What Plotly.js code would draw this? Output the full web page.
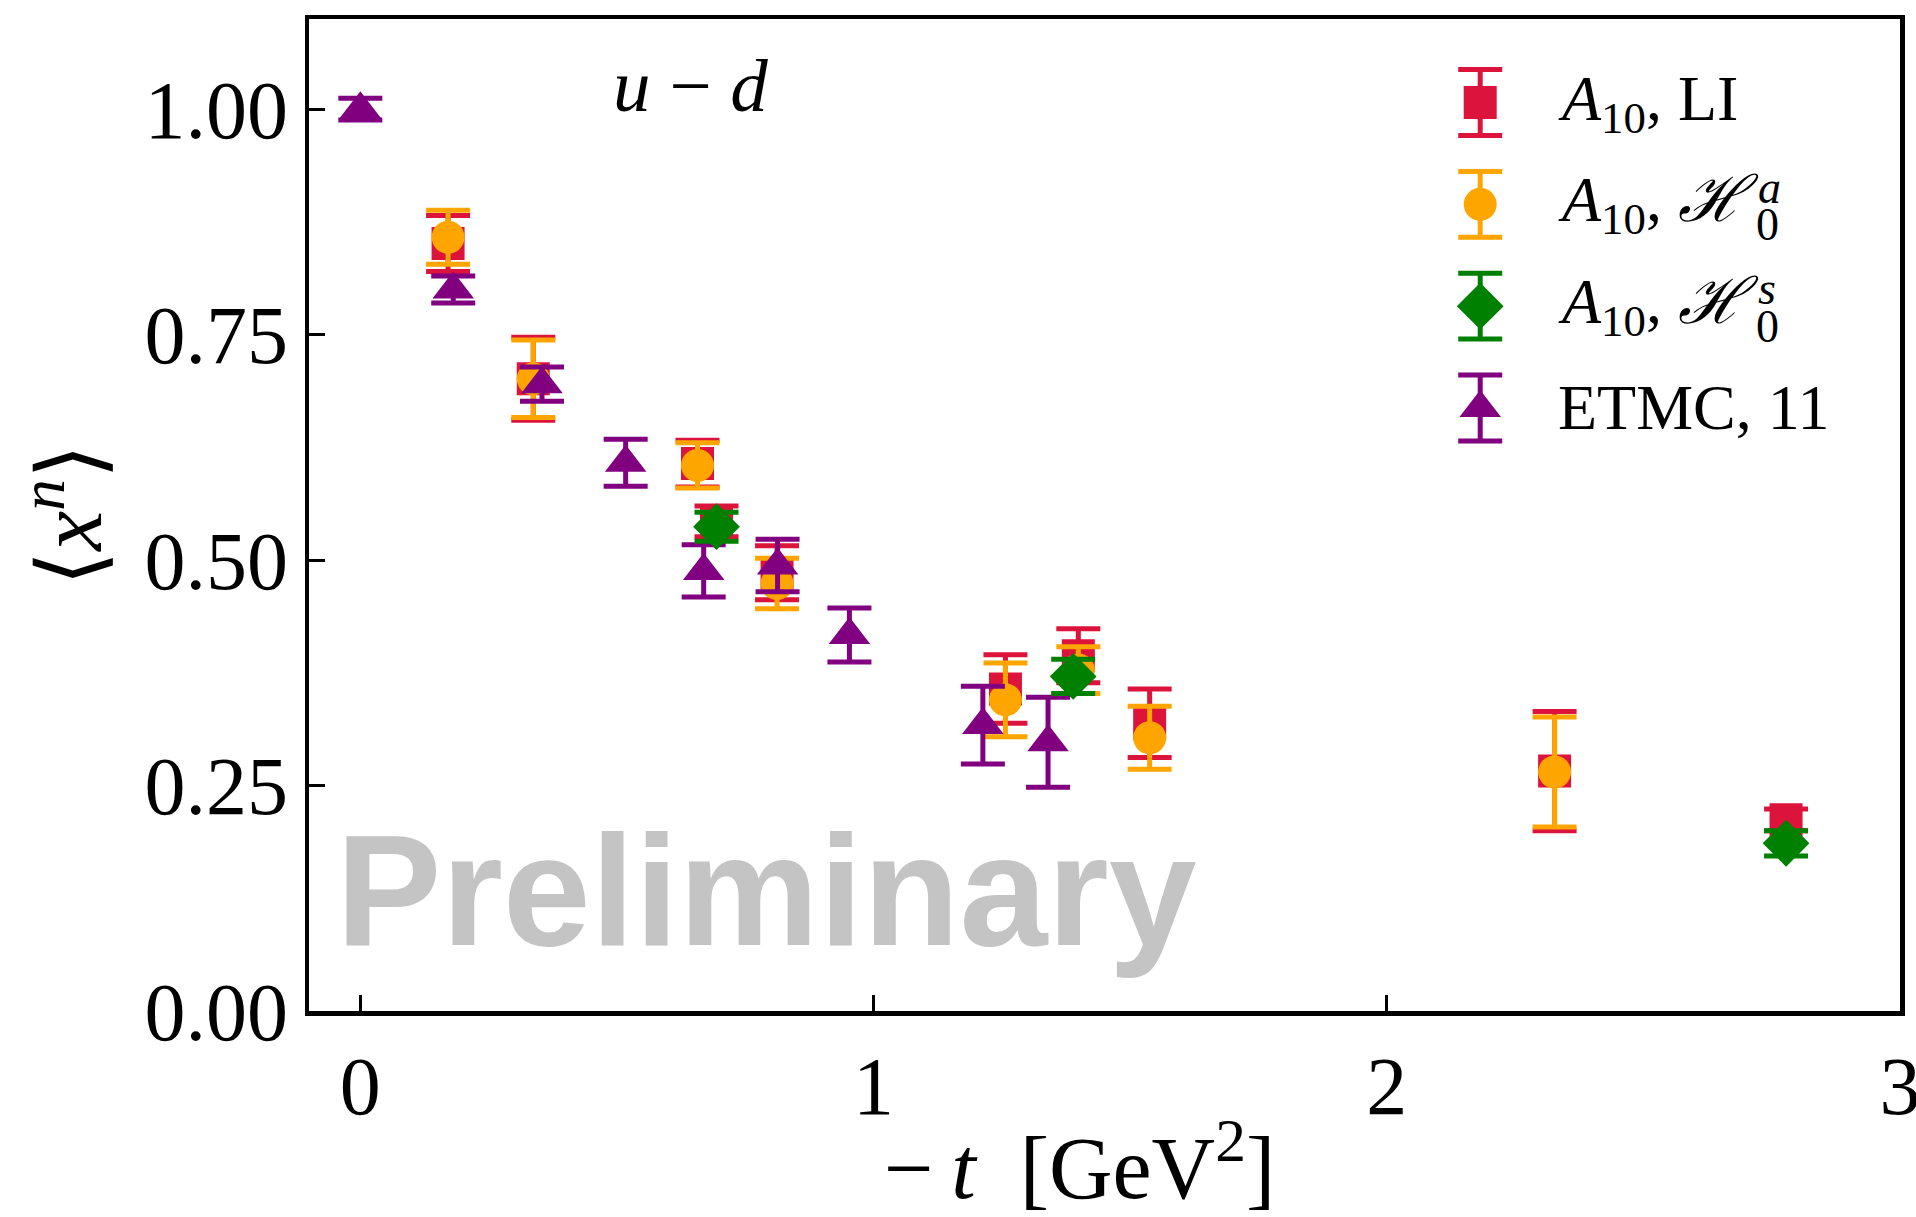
<!DOCTYPE html>
<html>
<head>
<meta charset="utf-8">
<script src="https://cdn.plot.ly/plotly-3.0.1.min.js"></script>
<style>html,body{margin:0;padding:0;background:#fff}</style>
</head>
<body>
<div id="chart" style="width:1916px;height:1217px"></div>
<script>
// Moments <x^n> of the u-d combination versus momentum transfer -t [GeV^2]

// A10, LI
const tLI   = [0.171, 0.337, 0.657, 0.694, 0.812, 1.257, 1.399, 1.538, 2.327, 2.778];
const xnLI  = [0.851, 0.701, 0.607, 0.543, 0.486, 0.357, 0.394, 0.319, 0.266, 0.212];
const errLI = [0.031, 0.046, 0.026, 0.017, 0.030, 0.038, 0.030, 0.038, 0.066, 0.012];

// A10, H0^a
const tHa   = [0.171, 0.337, 0.657, 0.812, 1.257, 1.399, 1.538, 2.327];
const xnHa  = [0.858, 0.701, 0.605, 0.474, 0.345, 0.378, 0.303, 0.265];
const errHa = [0.030, 0.043, 0.025, 0.028, 0.041, 0.026, 0.035, 0.061];

// A10, H0^s
const tHs   = [0.694, 1.389, 2.778];
const xnHs  = [0.537, 0.371, 0.186];
const errHs = [0.016, 0.019, 0.014];

// ETMC, 11
const tET   = [0.000, 0.181, 0.354, 0.517, 0.669, 0.813, 0.953, 1.213, 1.340];
const xnET  = [1.000, 0.800, 0.695, 0.608, 0.488, 0.494, 0.417, 0.317, 0.298];
const errET = [0.012, 0.015, 0.019, 0.026, 0.029, 0.029, 0.030, 0.043, 0.050];

// Axis ticks
const xTicks = [0, 1, 2, 3];
const yTicks = [0, 0.25, 0.5, 0.75, 1.0];

// Legend entries (top to bottom); script H carries a stacked sub/superscript
const legendLabels = [
  '<i>A</i><sub>10</sub>, LI',
  '<i>A</i><sub>10</sub>, <i>\u210B</i>',
  '<i>A</i><sub>10</sub>, <i>\u210B</i>',
  'ETMC, 11'
];
const legendSub = ['', '0', '0', ''];
const legendSup = ['', 'a', 's', ''];

const styles = {
  LI: {color: '#DC143C', symbol: 'square',      size: 33},
  Ha: {color: '#FFA500', symbol: 'circle',      size: 33},
  Hs: {color: '#008000', symbol: 'diamond',     size: 36},
  ET: {color: '#800080', symbol: 'triangle-up', size: 36}
};
const legendKeys = ['LI', 'Ha', 'Hs', 'ET'];

function series(x, y, err, st, xa, ya) {
  return {
    type: 'scatter', mode: 'markers', x: x, y: y,
    xaxis: xa || 'x', yaxis: ya || 'y',
    marker: {symbol: st.symbol, size: st.size, color: st.color, line: {width: 0}},
    error_y: {type: 'data', array: err, visible: true, color: st.color, thickness: 5, width: 22},
    showlegend: false, hoverinfo: 'x+y'
  };
}

// drawing order: LI, H0^a, ETMC, H0^s
const traces = [
  series(tLI, xnLI, errLI, styles.LI),
  series(tHa, xnHa, errHa, styles.Ha),
  series(tET, xnET, errET, styles.ET),
  series(tHs, xnHs, errHs, styles.Hs)
];

// legend drawn on a small auxiliary axis: one row per entry
const legendBar = 0.3235;
legendKeys.forEach(function (k, i) {
  traces.push(series([0.0925], [i], [legendBar], styles[k], 'x2', 'y2'));
});

const serif = 'Liberation Serif, serif';

const axisCommon = {
  ticks: 'inside', ticklen: 16, tickwidth: 3, tickcolor: '#000',
  showline: true, linewidth: 4.5, linecolor: '#000', mirror: true,
  showgrid: false, zeroline: false, ticklabeloverflow: 'allow',
  tickfont: {family: serif, size: 82, color: '#000'}
};

const annotations = [
  {
    text: '<i>u</i> \u2212 <i>d</i>', xref: 'paper', yref: 'paper',
    x: 0.19, y: 0.933, xanchor: 'left', yanchor: 'middle', showarrow: false,
    font: {family: serif, size: 75, color: '#000'}
  },
  {
    text: 'Preliminary', xref: 'paper', yref: 'paper',
    x: 0.016, y: 0.031, xanchor: 'left', yanchor: 'bottom', showarrow: false,
    font: {family: 'Liberation Sans, Arial, sans-serif', size: 158, color: '#c4c4c4', weight: 'bold'}
  },
  {
    // x-axis label
    text: '\u2212\u2009<i>t</i>\u00a0\u00a0[GeV<sup>2</sup>]', xref: 'paper', yref: 'paper',
    x: 0.484, y: -0.094, xanchor: 'center', yanchor: 'top', showarrow: false,
    font: {family: serif, size: 88, color: '#000'}
  }
];

legendLabels.forEach(function (lab, i) {
  annotations.push({
    text: lab, xref: 'x2', yref: 'y2', x: 0.266, y: i,
    xanchor: 'left', yanchor: 'middle', showarrow: false,
    font: {family: serif, size: 64, color: '#000'}
  });
  if (legendSub[i]) {
    annotations.push({
      text: legendSub[i], xref: 'x2', yref: 'y2', x: 0.715, y: i + 0.2,
      xanchor: 'left', yanchor: 'middle', showarrow: false,
      font: {family: serif, size: 46, color: '#000'}
    });
  }
  if (legendSup[i]) {
    annotations.push({
      text: '<i>' + legendSup[i] + '</i>', xref: 'x2', yref: 'y2', x: 0.72, y: i - 0.17,
      xanchor: 'left', yanchor: 'middle', showarrow: false,
      font: {family: serif, size: 46, color: '#000'}
    });
  }
});

const layout = {
  width: 1916, height: 1217,
  margin: {l: 309, r: 16, t: 19, b: 206},
  paper_bgcolor: '#ffffff', plot_bgcolor: 'rgba(0,0,0,0)',
  font: {family: serif, color: '#000'},
  showlegend: false,
  xaxis: Object.assign({}, axisCommon, {
    range: [-0.1, 3], tickvals: xTicks, ticktext: xTicks.map(String)
  }),
  yaxis: Object.assign({}, axisCommon, {
    range: [0, 1.1], tickvals: yTicks, ticktext: yTicks.map(function (v) { return v.toFixed(2); }),
    title: {text: '\u27E8<i>x</i><sup><i>n</i></sup>\u27E9', font: {size: 90}, standoff: 14}
  }),
  xaxis2: {domain: [0.7106, 0.9868], range: [0, 1], visible: false, anchor: 'y2', fixedrange: true},
  yaxis2: {domain: [0.5566, 0.9671], range: [3.5, -0.5], visible: false, anchor: 'x2', fixedrange: true},
  annotations: annotations
};

Plotly.newPlot('chart', traces, layout, {displayModeBar: false, staticPlot: true});
</script>
</body>
</html>
